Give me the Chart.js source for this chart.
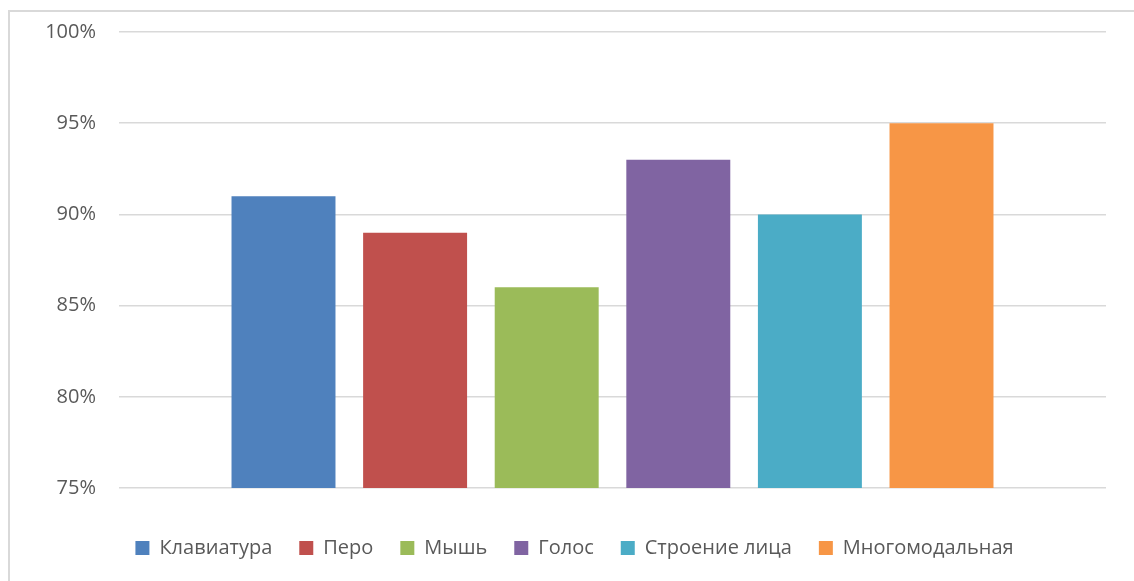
<!DOCTYPE html>
<html>
<head>
<meta charset="utf-8">
<script src="https://cdn.jsdelivr.net/npm/chart.js@4"></script>
<style>
  html, body { margin: 0; padding: 0; background: #fff; }
  #wrap { position: relative; width: 1134px; height: 581px; }
  #frame {
    position: absolute; left: 8px; top: 10px; right: -4px; bottom: -4px;
    border-top: 2px solid #d9d9d9; border-left: 2px solid #d9d9d9;
    pointer-events: none;
  }
</style>
</head>
<body>
<div id="wrap">
  <canvas id="chart" width="1134" height="581"></canvas>
  <div id="frame"></div>
</div>
<script>
const seriesNames = ['Клавиатура', 'Перо', 'Мышь', 'Голос', 'Строение лица', 'Многомодальная'];
const seriesValues = [91, 89, 86, 93, 90, 95];
const seriesColors = ['#4F81BD', '#C0504D', '#9BBB59', '#8064A2', '#4BACC6', '#F79646'];
const yMin = 75;
const yMax = 100;
const yStep = 5;

const textColor = '#595959';
const fontFamily = '"Open Sans", "Noto Sans", sans-serif';

const datasets = seriesNames.map((name, i) => ({
    label: name,
    data: [seriesValues[i]],
    backgroundColor: seriesColors[i],
    borderWidth: 0,
    categoryPercentage: 0.8,
    barPercentage: 0.79
}));

const ctx = document.getElementById('chart').getContext('2d');
new Chart(ctx, {
    type: 'bar',
    data: { labels: [''], datasets: datasets },
    options: {
        responsive: false,
        animation: false,
        layout: { padding: { left: 43, right: 28, top: 32, bottom: 13 } },
        plugins: {
            legend: {
                position: 'bottom',
                labels: {
                    boxWidth: 14,
                    boxHeight: 14,
                    padding: 27,
                    color: textColor,
                    font: { family: fontFamily, size: 20 }
                }
            },
            tooltip: { enabled: false }
        },
        scales: {
            x: {
                grid: { display: false },
                border: { display: false },
                ticks: { display: false },
                afterFit: function(scale) { scale.height = 23; }
            },
            y: {
                min: yMin,
                max: yMax,
                border: { display: false },
                grid: { color: '#d9d9d9', lineWidth: 1.5, drawTicks: false },
                ticks: {
                    stepSize: yStep,
                    padding: 23,
                    color: textColor,
                    font: { family: fontFamily, size: 20 },
                    callback: function(value) { return value + '%'; }
                },
                afterFit: function(scale) {
                    scale.width = 76;
                    // tick padding would otherwise push the plot top down
                    scale.paddingTop = 0;
                    scale.paddingBottom = 0;
                }
            }
        }
    }
});
</script>
</body>
</html>
